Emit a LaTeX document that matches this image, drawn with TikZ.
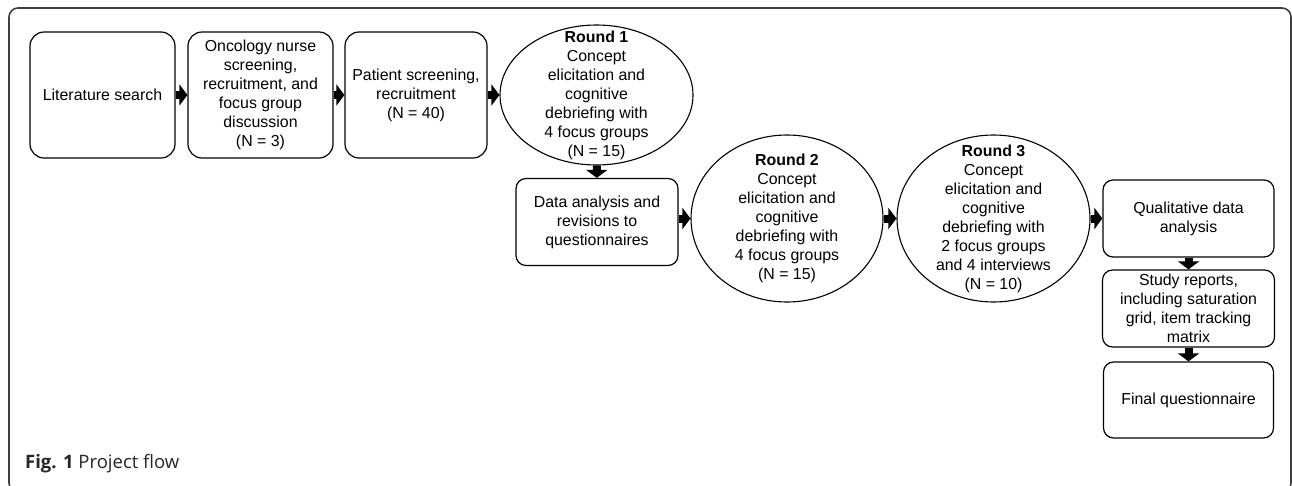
\documentclass[tikz,border=0pt]{standalone}
\usepackage{fontspec}
\setmainfont{Liberation Sans}
\newfontfamily\capfont{Open Sans}
\usetikzlibrary{arrows.meta,shapes.geometric}
\begin{document}
\begin{tikzpicture}[x=1pt,y=-1pt,
  txt/.style={font=\fontsize{15.9pt}{19pt}\selectfont, align=center},
  rbox/.style={txt, draw, line width=1.2pt, rounded corners=14pt, inner sep=0pt},
  sbox/.style={rbox, rounded corners=10pt},
  oval/.style={ellipse, draw, line width=1.1pt, inner sep=0pt},
  blk/.style={line width=8pt, -{Triangle[length=8pt,width=21pt]}},
  frame/.style={draw=black!75, line width=1.6pt, rounded corners=9pt}
]
\useasboundingbox (0,0) rectangle (1292,485);
\begin{scope}
\clip (0,0) rectangle (1292,485);
\draw[frame] (9,8) rectangle (1291,492);
\end{scope}

\node[rbox, minimum width=145pt, minimum height=126pt] (lit) at (102.5,95) {Literature search};
\node[rbox, minimum width=145pt, minimum height=126pt] (onc) at (260.5,95)
  {Oncology nurse\\screening,\\recruitment, and\\focus group\\discussion\\(N = 3)};
\node[rbox, minimum width=142pt, minimum height=126pt] (pat) at (416,95)
  {Patient screening,\\recruitment\\(N = 40)};
\node[oval, minimum width=193pt, minimum height=140pt,
  label={[txt]center:{\textbf{Round 1}\\Concept\\elicitation and\\cognitive\\debriefing with\\4 focus groups\\(N = 15)}}]
  (r1) at (596.5,95) {};
\node[sbox, minimum width=162pt, minimum height=87pt] (data) at (597,222)
  {Data analysis and\\revisions to\\questionnaires};
\node[oval, minimum width=192pt, minimum height=167pt,
  label={[txt]center:{\textbf{Round 2}\\Concept\\elicitation and\\cognitive\\debriefing with\\4 focus groups\\(N = 15)}}]
  (r2) at (787,218.5) {};
\node[oval, minimum width=193pt, minimum height=167pt,
  label={[txt]center:{\textbf{Round 3}\\Concept\\elicitation and\\cognitive\\debriefing with\\2 focus groups\\and 4 interviews\\(N = 10)}}]
  (r3) at (993.5,218.5) {};
\node[sbox, minimum width=171pt, minimum height=77pt] (qual) at (1188.5,218.5)
  {Qualitative data\\analysis};
\node[sbox, minimum width=172pt, minimum height=77pt] (study) at (1188.5,308.5)
  {Study reports,\\including saturation\\grid, item tracking\\matrix};
\node[sbox, minimum width=170pt, minimum height=76pt] (fin) at (1188.5,400)
  {Final questionnaire};

\draw[blk] (lit) -- (onc);
\draw[blk] (onc) -- (pat);
\draw[blk] (pat) -- (r1);
\draw[blk] (r1) -- (data);
\draw[blk] (data.east |- r2.west) -- (r2.west);
\draw[blk] (r2) -- (r3);
\draw[blk] (r3) -- (qual);
\draw[blk] (qual) -- (study);
\draw[blk] (study) -- (fin);

\node[anchor=base west, inner sep=0pt, font=\capfont\fontsize{18.5pt}{22pt}\selectfont, text=black!85] (cap) at (25,468)
  {\textbf{Fig. 1} Project flow};
\end{tikzpicture}
\end{document}
